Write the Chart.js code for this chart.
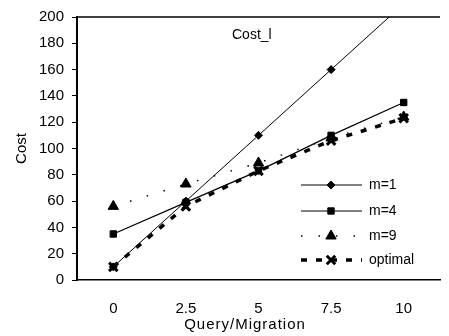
<!DOCTYPE html>
<html>
<head>
<meta charset="utf-8">
<script src="https://cdn.jsdelivr.net/npm/chart.js@4/dist/chart.umd.min.js"></script>
<style>
  html, body { margin: 0; padding: 0; background: #fff; }
  #wrap { width: 449px; height: 336px; position: relative; }
</style>
</head>
<body>
<div id="wrap"><canvas id="costChart"></canvas></div>
<script>
// Cost_l chart: cost vs query/migration ratio for several m values

var categories = ['0', '2.5', '5', '7.5', '10'];
var yTicks = [0, 20, 40, 60, 80, 100, 120, 140, 160, 180, 200];
var seriesNames = ['m=1', 'm=4', 'm=9', 'optimal'];
var m1Values = [10, 60, 110, 160, 210];
var m4Values = [35, 59, 83, 110, 135];
var m9Values = [56, 73, 89, 108, 124];
var optimalValues = [10, 56, 83, 106, 123];

var FONT = '"Liberation Sans", Arial, sans-serif';

function makeDataset(label, data, style) {
  return {
    label: label,
    data: data,
    borderColor: '#000',
    backgroundColor: '#000',
    borderWidth: style.lineWidth,
    borderDash: style.dash,
    pointStyle: style.point,
    pointRadius: style.radius,
    pointBorderWidth: style.pointBorder,
    pointBackgroundColor: '#000',
    pointBorderColor: '#000',
    fill: false,
    tension: 0
  };
}

// draws the top frame line, the inside title, the x title and the legend
var decorPlugin = {
  id: 'decor',
  afterDraw: function (chart) {
    var ctx = chart.ctx;
    var area = chart.chartArea;
    ctx.save();
    ctx.strokeStyle = '#000';
    ctx.lineWidth = 1.5;
    ctx.beginPath();
    ctx.moveTo(area.left, area.top);
    ctx.lineTo(area.right, area.top);
    ctx.stroke();

    ctx.fillStyle = '#000';
    ctx.font = '14px ' + FONT;
    ctx.textBaseline = 'middle';
    ctx.textAlign = 'left';
    ctx.fillText('Cost_l', 232, 35);

    ctx.save();
    ctx.font = '15px ' + FONT;
    ctx.textAlign = 'center';
    if ('letterSpacing' in ctx) ctx.letterSpacing = '1px';
    ctx.fillText('Query/Migration', 245, 325);
    ctx.restore();

    var x0 = 301, x1 = 362, xm = 331;
    var ys = [185, 211, 236, 260];
    chart.data.datasets.forEach(function (ds, i) {
      var y = ys[i];
      ctx.save();
      ctx.lineWidth = ds.borderWidth;
      ctx.setLineDash(ds.borderDash || []);
      ctx.beginPath();
      ctx.moveTo(x0, y);
      ctx.lineTo(x1, y);
      ctx.stroke();
      ctx.restore();
      ctx.save();
      ctx.lineWidth = ds.pointBorderWidth;
      Chart.helpers.drawPoint(ctx, {
        pointStyle: ds.pointStyle,
        radius: ds.pointRadius,
        borderWidth: ds.pointBorderWidth
      }, xm, y);
      ctx.restore();
      ctx.fillText(ds.label, 369, y);
    });
    ctx.restore();
  }
};

var datasets = [
  makeDataset(seriesNames[0], m1Values, { lineWidth: 1, dash: [], point: 'rectRot', radius: 4, pointBorder: 1 }),
  makeDataset(seriesNames[1], m4Values, { lineWidth: 1.2, dash: [], point: 'rect', radius: 4.5, pointBorder: 1 }),
  makeDataset(seriesNames[2], m9Values, { lineWidth: 1.5, dash: [1.5, 16], point: 'triangle', radius: 6, pointBorder: 1 }),
  makeDataset(seriesNames[3], optimalValues, { lineWidth: 3.5, dash: [6, 9], point: 'crossRot', radius: 6, pointBorder: 3 })
];

var config = {
  type: 'line',
  data: { labels: categories, datasets: datasets },
  options: {
    responsive: true,
    maintainAspectRatio: false,
    animation: false,
    layout: { padding: { top: 15, right: 0, left: 0, bottom: 0 } },
    plugins: { legend: { display: false }, tooltip: { enabled: false } },
    scales: {
      x: {
        offset: true,
        grid: { display: false, drawOnChartArea: false },
        border: { color: '#000', width: 1.5 },
        ticks: { color: '#000', font: { family: FONT, size: 15 }, padding: 12, maxRotation: 0 },
        afterFit: function (scale) { scale.height = 56; }
      },
      y: {
        min: 0,
        max: 200,
        afterBuildTicks: function (scale) {
          scale.ticks = yTicks.map(function (v) { return { value: v }; });
        },
        grid: { drawOnChartArea: false, drawTicks: true, tickLength: 5, color: '#000' },
        border: { color: '#000', width: 2 },
        ticks: { color: '#000', font: { family: FONT, size: 15 }, padding: 8 },
        title: { display: true, text: 'Cost', color: '#000', font: { family: FONT, size: 15 }, padding: { top: 13, bottom: 4 } },
        afterFit: function (scale) { scale.width = 77; }
      }
    }
  },
  plugins: [decorPlugin]
};

new Chart(document.getElementById('costChart').getContext('2d'), config);
</script>
</body>
</html>
